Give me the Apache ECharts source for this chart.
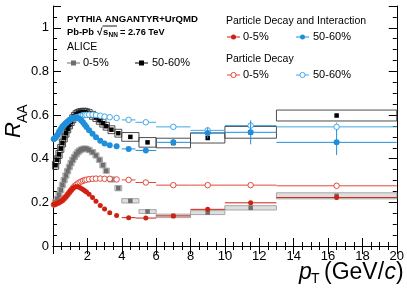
<!DOCTYPE html>
<html><head><meta charset="utf-8">
<script src="https://cdn.jsdelivr.net/npm/echarts@6/dist/echarts.min.js"></script>
<style>html,body{margin:0;padding:0;background:#fff}#c{width:407px;height:293px}</style>
</head><body><div id="c"></div>
<script>
// ALICE data
const alicePt = [0.15,0.25,0.35,0.45,0.55,0.65,0.75,0.85,0.95,1.05,1.15,1.25,1.35,1.45,1.55,1.65,1.75,1.85,1.95,2.1,2.3,2.5,2.7,2.9,3.1,3.4,3.8,4.5,5.5,7,9,11.5,16.5];
const aliceBinHalfWidth = [0.05,0.05,0.05,0.05,0.05,0.05,0.05,0.05,0.05,0.05,0.05,0.05,0.05,0.05,0.05,0.05,0.05,0.05,0.05,0.1,0.1,0.1,0.1,0.1,0.1,0.2,0.2,0.5,0.5,1,1,1.5,3.5];
const alice0_5 = [0.2,0.215,0.235,0.257,0.28,0.302,0.323,0.343,0.362,0.38,0.395,0.408,0.42,0.43,0.437,0.442,0.445,0.446,0.445,0.44,0.43,0.415,0.395,0.37,0.345,0.305,0.265,0.207,0.158,0.138,0.153,0.175,0.23];
const alice0_5Sys = [0.012,0.012,0.012,0.012,0.012,0.012,0.012,0.012,0.012,0.012,0.012,0.012,0.012,0.012,0.012,0.012,0.012,0.012,0.012,0.012,0.012,0.012,0.012,0.012,0.012,0.012,0.012,0.01,0.009,0.008,0.009,0.01,0.014];
const alice50_60 = [0.37,0.395,0.42,0.447,0.472,0.495,0.517,0.537,0.555,0.57,0.583,0.594,0.602,0.607,0.61,0.612,0.613,0.613,0.611,0.607,0.599,0.589,0.576,0.563,0.549,0.533,0.517,0.5,0.475,0.472,0.495,0.521,0.598];
const alice50_60Sys = [0.018,0.018,0.018,0.018,0.018,0.018,0.018,0.018,0.018,0.018,0.018,0.018,0.018,0.018,0.018,0.018,0.018,0.018,0.018,0.018,0.018,0.018,0.018,0.018,0.018,0.018,0.018,0.02,0.022,0.022,0.023,0.027,0.025];

// PYTHIA Angantyr + UrQMD, fine pT points
const modelPt = [0.05,0.15,0.25,0.35,0.45,0.55,0.65,0.75,0.85,0.95,1.05,1.15,1.25,1.35,1.45,1.55,1.65,1.75,1.85,1.95,2.1,2.3,2.5,2.75,3.0,3.3,3.7];
const pdi0_5 = [0.19,0.193,0.197,0.2,0.205,0.21,0.218,0.226,0.236,0.246,0.256,0.265,0.27,0.272,0.271,0.268,0.264,0.259,0.253,0.247,0.237,0.222,0.205,0.186,0.17,0.152,0.14];
const pd0_5 = [0.19,0.193,0.197,0.2,0.205,0.21,0.218,0.226,0.236,0.246,0.256,0.265,0.275,0.281,0.287,0.292,0.296,0.299,0.302,0.304,0.306,0.308,0.309,0.309,0.308,0.308,0.305];
const pdi50_60 = [0.49,0.496,0.508,0.522,0.535,0.546,0.555,0.563,0.57,0.576,0.581,0.585,0.588,0.589,0.587,0.582,0.575,0.566,0.556,0.545,0.53,0.515,0.498,0.482,0.47,0.462,0.457];
const pd50_60 = [0.49,0.496,0.508,0.522,0.535,0.546,0.555,0.563,0.57,0.576,0.581,0.585,0.588,0.589,0.591,0.594,0.597,0.599,0.6,0.601,0.602,0.602,0.6,0.597,0.593,0.59,0.587];

// binned high-pT model points
const binPt = [4.4,5.4,7,9,11.5,16.5];
const binHalfWidth = [0.4,0.6,1,1,1.5,3.5];
const pdi0_5Bin = [0.13,0.128,0.138,0.168,0.198,0.222];
const pdi0_5Err = [0.004,0.004,0.005,0.006,0.008,0.01];
const pd0_5Bin = [0.303,0.291,0.279,0.279,0.279,0.276];
const pd0_5Err = [0.004,0.005,0.005,0.006,0.008,0.01];
const pdi50_60Bin = [0.445,0.438,0.475,0.518,0.521,0.475];
const pdi50_60Err = [0.008,0.01,0.015,0.025,0.055,0.058];
const pd50_60Bin = [0.578,0.567,0.546,0.53,0.552,0.546];
const pd50_60Err = [0.006,0.008,0.01,0.012,0.015,0.02];

const C = {
  red: '#cf2010', blue: '#1f8fdc', redOpen: '#e2493c', blueOpen: '#41a9e6',
  gray: '#6e6e6e', grayBox: '#a0a0a0', grayFill: 'rgba(200,200,200,0.6)', blackBox: '#3a3a3a'
};
const FONT = '"Liberation Sans", Arial, Helvetica, sans-serif';

function pairs(xs, ys) { return xs.map((x, i) => [x, ys[i]]); }
function quads(xs, ys, hw, e) { return xs.map((x, i) => [x, ys[i], hw[i], e[i]]); }

function boxRender(stroke, fill, lw, minHw) {
  return function (params, api) {
    const x = api.value(0), y = api.value(1), hw = Math.max(api.value(2), minHw), s = api.value(3);
    const a = api.coord([x - hw, y + s]), b = api.coord([x + hw, y - s]);
    return { type: 'rect', shape: { x: a[0], y: a[1], width: b[0] - a[0], height: b[1] - a[1] },
      style: { fill: fill, stroke: stroke, lineWidth: lw } };
  };
}
function errRender(color, lw) {
  return function (params, api) {
    const x = api.value(0), y = api.value(1), hw = api.value(2), e = api.value(3);
    const l = api.coord([x - hw, y]), r = api.coord([x + hw, y]);
    const t = api.coord([x, y + e]), bt = api.coord([x, y - e]);
    return { type: 'group', children: [
      { type: 'line', shape: { x1: l[0], y1: l[1], x2: r[0], y2: r[1] }, style: { stroke: color, lineWidth: lw } },
      { type: 'line', shape: { x1: t[0], y1: t[1], x2: bt[0], y2: bt[1] }, style: { stroke: color, lineWidth: lw } }
    ] };
  };
}

function scatter(data, size, symbol, color, border, z) {
  return { type: 'scatter', data: data, symbol: symbol, symbolSize: size, z: z, silent: true,
    itemStyle: { color: color, borderColor: border || color, borderWidth: border ? 1 : 0, opacity: 1 } };
}
function custom(data, render, z) {
  return { type: 'custom', data: data, renderItem: render, z: z, silent: true, encode: { x: 0, y: 1 } };
}

const axisLineStyle = { show: true, lineStyle: { color: '#000', width: 1 } };
const chart = echarts.init(document.getElementById('c'), null, { renderer: 'canvas' });

function txt(x, y, text, size, opts) {
  opts = opts || {};
  return { type: 'text', x: x, y: y, z: 100, silent: true, rotation: opts.rot || 0,
    style: { text: text, fill: '#000', font: (opts.italic ? 'italic ' : '') + (opts.bold ? 'bold ' : '') + size + 'px ' + FONT,
      textAlign: opts.align || 'left', textVerticalAlign: 'middle', align: opts.align || 'left', verticalAlign: 'middle' } };
}
function lg(x, y, lineColor, symbolEl) {
  return [{ type: 'line', z: 100, shape: { x1: x, y1: y, x2: x + 13, y2: y }, style: { stroke: lineColor, lineWidth: 1 } }, symbolEl];
}
function sq(cx, cy, color) { return { type: 'rect', z: 101, shape: { x: cx - 2.5, y: cy - 2.5, width: 5, height: 5 }, style: { fill: color } }; }
function dot(cx, cy, color, open) {
  return { type: 'circle', z: 101, shape: { cx: cx, cy: cy, r: open ? 2.6 : 2.5 },
    style: open ? { fill: '#fff', stroke: color, lineWidth: 1 } : { fill: color } };
}

const graphics = [].concat(
  [txt(67, 19, 'PYTHIA ANGANTYR+UrQMD', 9.6, { bold: true }),
   txt(67, 32, 'Pb-Pb', 9.4, { bold: true }),
   txt(97, 32, '\u221A', 10, { bold: true }),
   { type: 'line', z: 100, shape: { x1: 102.5, y1: 26, x2: 117, y2: 26 }, style: { stroke: '#000', lineWidth: 0.9 } },
   txt(103, 32, 's', 9.4, { bold: true }),
   txt(108.5, 35, 'NN', 6.5, { bold: true }),
   txt(120, 32, '= 2.76 TeV', 9.2, { bold: true }),
   txt(67, 47, 'ALICE', 10.5),
   txt(83, 63, '0-5%', 11),
   txt(152, 63, '50-60%', 11),
   txt(226, 21, 'Particle Decay and Interaction', 10.5),
   txt(243, 37, '0-5%', 11),
   txt(313, 37, '50-60%', 11),
   txt(226, 59, 'Particle Decay', 10.5),
   txt(243, 75, '0-5%', 11),
   txt(313, 75, '50-60%', 11)],
  lg(67, 63, C.gray, sq(73.5, 63, C.gray)),
  lg(135, 63, '#000', sq(141.5, 63, '#000')),
  lg(227, 37, C.red, dot(233.5, 37, C.red)),
  lg(296, 37, C.blue, dot(302.5, 37, C.blue)),
  lg(227, 75, C.redOpen, dot(233.5, 75, C.redOpen, true)),
  lg(296, 75, C.blueOpen, dot(302.5, 75, C.blueOpen, true)),
  [{ type: 'group', x: 25, y: 138, rotation: Math.PI / 2, z: 100, children: [
      { type: 'text', x: 0, y: 0, silent: true, style: { text: 'R', font: 'italic 22px ' + FONT, fill: '#000', textAlign: 'left', textVerticalAlign: 'bottom', align: 'left', verticalAlign: 'bottom' } },
      { type: 'text', x: 15, y: 5, silent: true, style: { text: 'AA', font: '14px ' + FONT, fill: '#000', textAlign: 'left', textVerticalAlign: 'bottom', align: 'left', verticalAlign: 'bottom' } }
    ] },
   txt(299, 273, 'p', 23, { italic: true }),
   txt(311, 279, 'T', 14),
   txt(324, 273, '(GeV/', 23),
   txt(384.5, 273, 'c', 23, { italic: true }),
   txt(396, 273, ')', 23)]
);

const option = {
  animation: false,
  backgroundColor: '#fff',
  grid: { left: 53, right: 9, top: 6, bottom: 47, containLabel: false },
  xAxis: [
    { type: 'value', min: 0, max: 20, interval: 2, position: 'bottom', axisLine: axisLineStyle,
      axisTick: { show: true, inside: true, length: 8, lineStyle: { color: '#000' } },
      minorTick: { show: true, splitNumber: 4, length: 4, lineStyle: { color: '#000' } },
      splitLine: { show: false }, minorSplitLine: { show: false },
      axisLabel: { show: true, margin: 4, color: '#000', fontSize: 13, fontFamily: FONT,
        formatter: v => (v === 0 ? '' : String(v)) } },
    { type: 'value', min: 0, max: 20, interval: 2, position: 'top', axisLine: axisLineStyle,
      axisTick: { show: true, inside: true, length: 8, lineStyle: { color: '#000' } },
      minorTick: { show: true, splitNumber: 4, length: 4, lineStyle: { color: '#000' } },
      splitLine: { show: false }, axisLabel: { show: false } }
  ],
  yAxis: [
    { type: 'value', min: 0, max: 1.1, interval: 0.2, position: 'left', axisLine: axisLineStyle,
      axisTick: { show: true, inside: true, length: 8, lineStyle: { color: '#000' } },
      splitLine: { show: false },
      axisLabel: { show: true, margin: 4, color: '#000', fontSize: 13, fontFamily: FONT,
        formatter: v => (v > 1.05 ? '' : (v === 0 ? '0' : (Math.abs(v - 1) < 1e-6 ? '1' : v.toFixed(1)))) } },
    { type: 'value', min: 0, max: 1.1, interval: 0.05, position: 'left', axisLine: { show: false },
      axisTick: { show: true, inside: true, length: 4, lineStyle: { color: '#000' } },
      splitLine: { show: false }, axisLabel: { show: false } },
    { type: 'value', min: 0, max: 1.1, interval: 0.2, position: 'right', axisLine: axisLineStyle,
      axisTick: { show: true, inside: true, length: 8, lineStyle: { color: '#000' } },
      splitLine: { show: false }, axisLabel: { show: false } },
    { type: 'value', min: 0, max: 1.1, interval: 0.05, position: 'right', axisLine: { show: false },
      axisTick: { show: true, inside: true, length: 4, lineStyle: { color: '#000' } },
      splitLine: { show: false }, axisLabel: { show: false } }
  ],
  series: [
    custom(quads(alicePt, alice0_5, aliceBinHalfWidth, alice0_5Sys), boxRender(C.grayBox, C.grayFill, 0.9, 0.18), 2),
    scatter(pairs(alicePt, alice0_5), 4.5, 'rect', C.gray, null, 3),
    custom(quads(alicePt, alice50_60, aliceBinHalfWidth, alice50_60Sys), boxRender(C.blackBox, 'rgba(0,0,0,0)', 0.9, 0.18), 4),
    scatter(pairs(alicePt, alice50_60), 4.5, 'rect', '#000', null, 5),
    custom(quads(binPt, pd0_5Bin, binHalfWidth, pd0_5Err), errRender(C.redOpen, 1), 6),
    custom(quads(binPt, pd50_60Bin, binHalfWidth, pd50_60Err), errRender(C.blueOpen, 1), 6),
    scatter(pairs(modelPt, pd0_5).concat(pairs(binPt, pd0_5Bin)), 5.5, 'circle', '#fff', C.redOpen, 7),
    scatter(pairs(modelPt, pd50_60).concat(pairs(binPt, pd50_60Bin)), 5.5, 'circle', '#fff', C.blueOpen, 7),
    custom(quads(binPt, pdi0_5Bin, binHalfWidth, pdi0_5Err), errRender(C.red, 1), 8),
    custom(quads(binPt, pdi50_60Bin, binHalfWidth, pdi50_60Err), errRender(C.blue, 1), 8),
    scatter(pairs(modelPt, pdi0_5).concat(pairs(binPt, pdi0_5Bin)), 5, 'circle', C.red, null, 9),
    scatter(pairs(modelPt, pdi50_60).concat(pairs(binPt, pdi50_60Bin)), 6, 'circle', C.blue, null, 9)
  ],
  graphic: graphics
};
chart.setOption(option);
</script>
</body></html>
